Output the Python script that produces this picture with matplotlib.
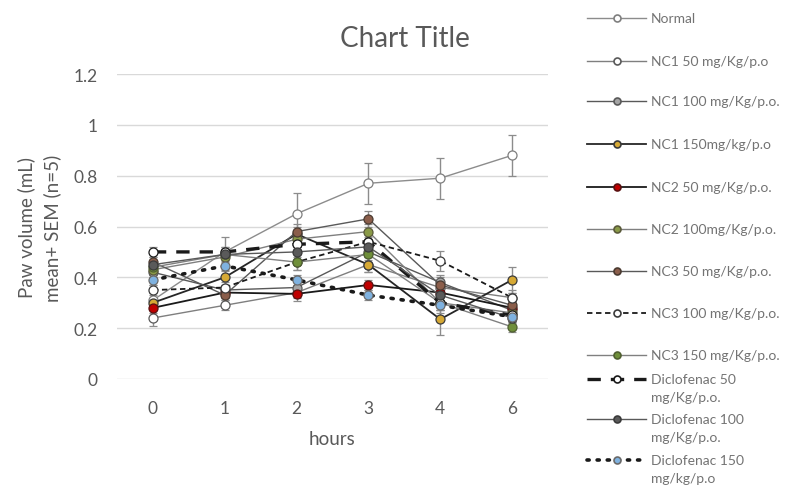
import matplotlib
matplotlib.use("Agg")
import matplotlib.pyplot as plt
from matplotlib.lines import Line2D

plt.rcParams['font.family'] = ['Lato', 'DejaVu Sans']

hours = ["0", "1", "2", "3", "4", "6"]

series_names = [
    "Normal", "NC1 50 mg/Kg/p.o", "NC1 100 mg/Kg/p.o.", "NC1 150mg/kg/p.o",
    "NC2 50 mg/Kg/p.o.", "NC2 100mg/Kg/p.o.", "NC3 50 mg/Kg/p.o.",
    "NC3 100 mg/Kg/p.o.", "NC3 150 mg/Kg/p.o.", "Diclofenac 50\nmg/Kg/p.o.",
    "Diclofenac 100\nmg/Kg/p.o.", "Diclofenac 150\nmg/kg/p.o",
]

normal = [0.31, 0.50, 0.65, 0.77, 0.79, 0.88]
nc1_50 = [0.24, 0.29, 0.34, 0.45, 0.36, 0.32]
nc1_100 = [0.42, 0.35, 0.36, 0.50, 0.38, 0.27]
nc1_150 = [0.30, 0.40, 0.57, 0.45, 0.235, 0.39]
nc2_50 = [0.28, 0.34, 0.335, 0.37, 0.34, 0.28]
nc2_100 = [0.43, 0.48, 0.55, 0.58, 0.30, 0.26]
nc3_50 = [0.46, 0.33, 0.58, 0.63, 0.37, 0.29]
nc3_100 = [0.35, 0.36, 0.46, 0.54, 0.465, 0.32]
nc3_150 = [0.44, 0.49, 0.46, 0.49, 0.30, 0.205]
diclo_50 = [0.50, 0.50, 0.53, 0.54, 0.30, 0.25]
diclo_100 = [0.45, 0.49, 0.50, 0.52, 0.33, 0.24]
diclo_150 = [0.39, 0.445, 0.39, 0.33, 0.29, 0.245]

normal_sem = [0.03, 0.06, 0.08, 0.08, 0.08, 0.08]
nc1_50_sem = [0.03, 0.02, 0.02, 0.03, 0.03, 0.02]
nc1_100_sem = [0.02, 0.02, 0.02, 0.03, 0.03, 0.02]
nc1_150_sem = [0.02, 0.03, 0.03, 0.03, 0.06, 0.05]
nc2_50_sem = [0.02, 0.02, 0.03, 0.02, 0.03, 0.02]
nc2_100_sem = [0.02, 0.03, 0.03, 0.03, 0.03, 0.02]
nc3_50_sem = [0.02, 0.02, 0.03, 0.03, 0.03, 0.02]
nc3_100_sem = [0.02, 0.02, 0.03, 0.03, 0.04, 0.03]
nc3_150_sem = [0.02, 0.03, 0.03, 0.03, 0.03, 0.02]
diclo_50_sem = [0.02, 0.02, 0.02, 0.02, 0.03, 0.02]
diclo_100_sem = [0.02, 0.02, 0.02, 0.02, 0.03, 0.02]
diclo_150_sem = [0.02, 0.02, 0.02, 0.02, 0.03, 0.02]

values = [normal, nc1_50, nc1_100, nc1_150, nc2_50, nc2_100, nc3_50,
          nc3_100, nc3_150, diclo_50, diclo_100, diclo_150]
sems = [normal_sem, nc1_50_sem, nc1_100_sem, nc1_150_sem, nc2_50_sem,
        nc2_100_sem, nc3_50_sem, nc3_100_sem, nc3_150_sem, diclo_50_sem,
        diclo_100_sem, diclo_150_sem]

# style: (line color, linestyle, linewidth, marker face, marker edge, marker size)
styles = [
    ("#8c8c8c", "-", 1.0, "#ffffff", "#7f7f7f", 6.5),
    ("#7f7f7f", "-", 1.0, "#ffffff", "#595959", 6.5),
    ("#595959", "-", 1.0, "#a5a5a5", "#595959", 6.5),
    ("#262626", "-", 1.3, "#d6a935", "#3a3a3a", 6.5),
    ("#1a1a1a", "-", 1.3, "#c00000", "#5a1010", 6.5),
    ("#7f7f7f", "-", 1.0, "#8a9a48", "#5a5a3a", 6.5),
    ("#595959", "-", 1.0, "#8b5e4b", "#4a3a30", 6.5),
    ("#1a1a1a", (0, (3, 2)), 1.3, "#ffffff", "#3a3a3a", 6.5),
    ("#808080", "-", 1.0, "#6f8f3a", "#4f5f30", 6.5),
    ("#1a1a1a", (0, (4, 3)), 2.4, "#ffffff", "#1a1a1a", 6.5),
    ("#595959", "-", 1.0, "#5a5a5a", "#3a3a3a", 6.5),
    ("#1a1a1a", (0, (0.6, 2.2)), 2.6, "#7fb2e0", "#6a6a6a", 6.5),
]

fig = plt.figure(figsize=(7.92, 4.89), dpi=100)
W, H = 792, 489
ax = fig.add_axes([117 / W, 1 - 380 / H, (548 - 117) / W, (380 - 75) / H])

x = list(range(len(hours)))
for vals, sem, st in zip(values, sems, styles):
    c, ls, lw, mfc, mec, ms = st
    line = ax.errorbar(x, vals, yerr=sem, color=c, linestyle=ls, linewidth=lw,
                       marker="o", markersize=ms, markerfacecolor=mfc,
                       markeredgecolor=mec, markeredgewidth=0.9,
                       ecolor="#8c8c8c", elinewidth=1.0, capsize=3, capthick=1.0,
                       zorder=3)
    if ls != "-":
        line[0].set_dash_capstyle("round" if lw > 2.5 else "butt")

ax.set_xlim(-0.5, len(hours) - 0.5)
ax.set_ylim(0, 1.2)
ax.set_yticks([0, 0.2, 0.4, 0.6, 0.8, 1.0, 1.2])
ax.set_yticklabels(["0", "0.2", "0.4", "0.6", "0.8", "1", "1.2"])
ax.set_xticks(x)
ax.set_xticklabels(hours)
ax.grid(axis="y", color="#d9d9d9", linewidth=1.0, zorder=0)
ax.set_axisbelow(True)
for s in ax.spines.values():
    s.set_visible(False)
ax.tick_params(length=0, colors="#595959", labelsize=12.5)
ax.tick_params(axis="y", pad=14)
ax.tick_params(axis="x", pad=15)
ax.set_xlabel("hours", fontsize=13.5, color="#595959", labelpad=10)

fig.text(39 / W, 1 - 228 / H, "Paw volume (mL)\nmean+ SEM (n=5)", rotation=90,
         ha="center", va="center", fontsize=13.5, color="#595959",
         multialignment="center", linespacing=1.55)
fig.text(405 / W, 1 - 39 / H, "Chart Title", ha="center", va="center",
         fontsize=20, color="#595959")

# manual legend
leg_y = [19, 62, 102, 145, 188, 230, 272, 314, 356, 380, 420, 461]
for name, st, yy in zip(series_names, styles, leg_y):
    c, ls, lw, mfc, mec, ms = st
    fy = 1 - yy / H
    ln = Line2D([587 / W, 646 / W], [fy, fy], transform=fig.transFigure,
                color=c, linestyle=ls, linewidth=lw)
    if ls != "-" and lw > 2.5:
        ln.set_dash_capstyle("round")
    fig.add_artist(ln)
    mk = Line2D([617 / W], [fy], transform=fig.transFigure, marker="o",
                markersize=5, markerfacecolor=mfc, markeredgecolor=mec,
                markeredgewidth=1.2, linestyle="none")
    fig.add_artist(mk)
    parts = name.split("\n")
    for k, p in enumerate(parts):
        fig.text(651 / W, 1 - (yy + 18 * k) / H, p, ha="left", va="center",
                 fontsize=10, color="#737373")

fig.savefig("out.png", dpi=100)
